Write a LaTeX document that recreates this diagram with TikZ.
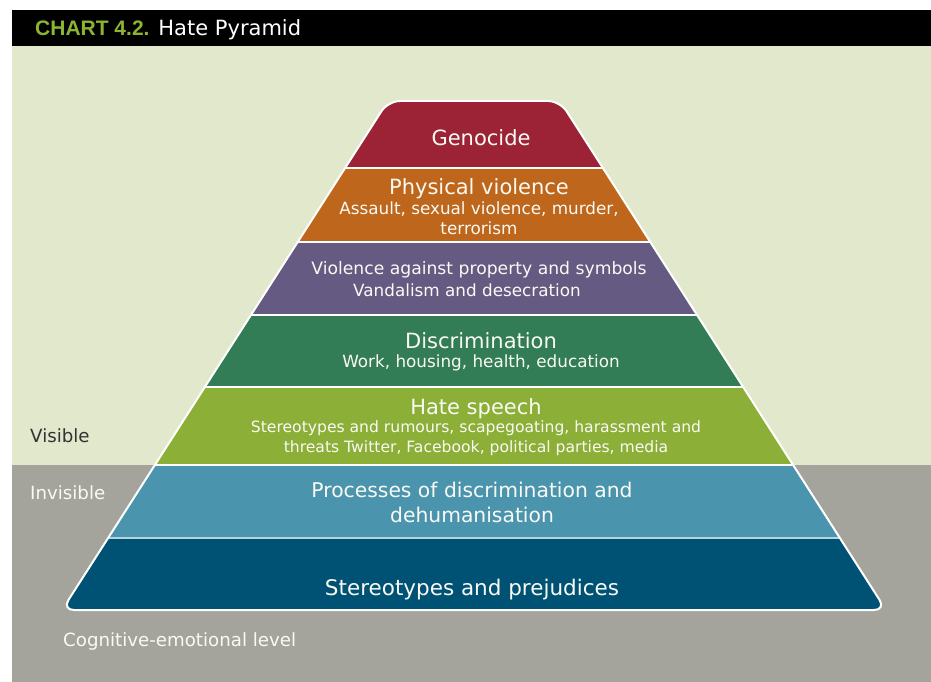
\documentclass[tikz,border=0pt]{standalone}
\usepackage{fontspec}
\setmainfont{DejaVu Sans}
\newfontfamily\chartfont{Liberation Sans}
\usepackage{tikz}
\usetikzlibrary{calc}

\definecolor{bgvisible}{RGB}{225,232,204}
\definecolor{bginvisible}{RGB}{164,164,157}
\definecolor{chartgreen}{RGB}{140,180,50}
\definecolor{genocidered}{RGB}{156,35,53}
\definecolor{violenceorange}{RGB}{190,102,28}
\definecolor{propertypurple}{RGB}{101,90,130}
\definecolor{discrimgreen}{RGB}{50,125,85}
\definecolor{speecholive}{RGB}{140,175,55}
\definecolor{processblue}{RGB}{74,148,174}
\definecolor{prejudiceblue}{RGB}{0,82,117}
\definecolor{offwhite}{RGB}{250,250,245}

\tikzset{
  heading/.style={text=offwhite, font=\fontsize{21}{23}\selectfont, inner sep=0},
  detail/.style={text=offwhite, font=\fontsize{16.8}{19.5}\selectfont, align=center, inner sep=0},
  sidelabel/.style={anchor=west, font=\fontsize{18.2}{20}\selectfont, inner sep=0}
}

\begin{document}
\begin{tikzpicture}[x=1pt, y=-1pt]
\useasboundingbox (0,0) rectangle (931,682);

% backgrounds
\fill [bgvisible] (12,46) rectangle (931,465);
\fill [bginvisible] (12,465) rectangle (931,682);
\fill [black] (12,10) rectangle (931,46);
\node [anchor=base west, inner sep=0] (title) at (35,36)
  {\fontsize{21}{24}\selectfont{\chartfont\bfseries\color{chartgreen}CHART 4.2.} \color{white}Hate Pyramid};

% layers
\begin{scope}
\clip [rounded corners=12] (62,610) -- (388,101) -- (560,101) -- (886,610) -- cycle;
\foreach \ytop/\ybot/\col in {90/168/genocidered, 168/242/violenceorange, 242/315/propertypurple,
  315/387/discrimgreen, 387/465/speecholive, 465/538/processblue, 538/620/prejudiceblue}
  \fill [\col] (0,\ytop) rectangle (931,\ybot);
\end{scope}

% separators
\foreach \y in {168,242,315,387,465} {
  \pgfmathsetmacro\xl{345-0.64*(\y-168)}
  \pgfmathsetmacro\xr{603+0.64*(\y-168)}
  \draw [white, line width=2.5] (\xl,\y) -- (\xr,\y);
}
\draw [processblue!40!white, line width=1.5] ({345-0.64*(538-168)},538) -- ({603+0.64*(538-168)},538);

% outline
\draw [white, line width=2, rounded corners=12] (62,610) -- (388,101) -- (560,101) -- (886,610) -- cycle;

% texts
\node [heading] (genocide) at (481,138) {Genocide};
\node [heading] (physical) at (479,189) {Physical violence};
\node [detail] (physicaldetail) at (479,218) {Assault, sexual violence, murder,\\terrorism};
\node [heading, font=\fontsize{17.2}{22}\selectfont] (property) at (479,270) {Violence against property and symbols};
\node [detail] (propertydetail) at (467,290) {Vandalism and desecration};
\node [heading] (discrimination) at (481,341) {Discrimination};
\node [detail] (discriminationdetail) at (481,363) {Work, housing, health, education};
\node [heading] (hatespeech) at (476,409) {Hate speech};
\node [detail, font=\fontsize{15.6}{20}\selectfont] (hatespeechdetail) at (476,438) {Stereotypes and rumours, scapegoating, harassment and\\threats Twitter, Facebook, political parties, media};
\node [heading, align=center, font=\fontsize{20.3}{25}\selectfont] (processes) at (472,502) {Processes of discrimination and\\dehumanisation};
\node [heading, font=\fontsize{21.5}{23}\selectfont] (prejudices) at (472,590) {Stereotypes and prejudices};

% levels
\node [sidelabel, text=black!80] (visible) at (30,436) {Visible};
\node [sidelabel, text=offwhite] (invisible) at (30,493) {Invisible};
\node [sidelabel, text=offwhite] (cognitive) at (63,641) {Cognitive-emotional level};

\end{tikzpicture}
\end{document}
